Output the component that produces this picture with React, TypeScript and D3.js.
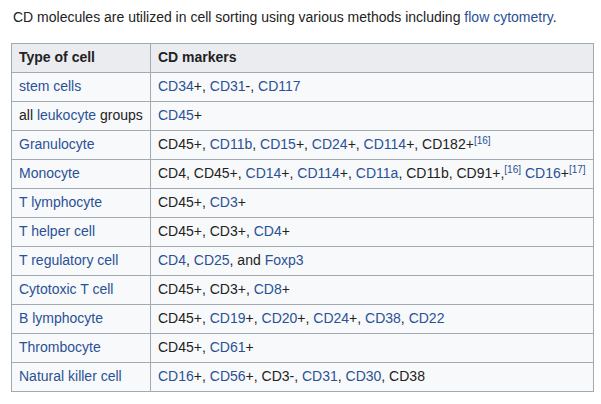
import React from "react";
import * as d3 from "d3";

// {text} = link, ^[n] = reference superscript
const caption = "CD molecules are utilized in cell sorting using various methods including {flow cytometry}.";
const headers = ["Type of cell", "CD markers"];
const cellTypes = [
  "{stem cells}",
  "all {leukocyte} groups",
  "{Granulocyte}",
  "{Monocyte}",
  "{T lymphocyte}",
  "{T helper cell}",
  "{T regulatory cell}",
  "{Cytotoxic T cell}",
  "{B lymphocyte}",
  "{Thrombocyte}",
  "{Natural killer cell}",
];
const markers = [
  "{CD34}+, {CD31}-, {CD117}",
  "{CD45}+",
  "CD45+, {CD11b}, {CD15}+, {CD24}+, {CD114}+, CD182+^[16]",
  "CD4, CD45+, {CD14}+, {CD114}+, {CD11a}, CD11b, CD91+,^[16] {CD16}+^[17]",
  "CD45+, {CD3}+",
  "CD45+, CD3+, {CD4}+",
  "{CD4}, {CD25}, and {Foxp3}",
  "CD45+, CD3+, {CD8}+",
  "CD45+, {CD19}+, {CD20}+, {CD24}+, {CD38}, {CD22}",
  "CD45+, {CD61}+",
  "{CD16}+, {CD56}+, CD3-, {CD31}, {CD30}, CD38",
];

const W = 601;
const H = 404;
const LINK = "#2a5196";
const TEXT = "#222";
const BORDER = "#a2a9b1";
const FONT = "'Liberation Sans', Arial, sans-serif";
const SIZE = 14;

const parse = (s: string) =>
  s
    .split(/(\{[^}]+\}|\^\[\d+\])/)
    .filter((p) => p.length)
    .map((p) => {
      if (p.startsWith("{")) return { text: p.slice(1, -1), kind: "link" };
      if (p.startsWith("^")) return { text: p.slice(1), kind: "ref" };
      return { text: p, kind: "plain" };
    });

const RichText = ({ s, x, y }: { s: string; x: number; y: number }) => {
  const parts = parse(s);
  let raised = false;
  return (
    <text x={x} y={y} fontFamily={FONT} fontSize={SIZE}>
      {parts.map((p, i) => {
        if (p.kind === "ref") {
          const el = (
            <tspan key={i} fill={LINK} fontSize={10} dy={raised ? 0 : -5}>
              {p.text}
            </tspan>
          );
          raised = true;
          return el;
        }
        const dy = raised ? 5 : 0;
        raised = false;
        return (
          <tspan key={i} fill={p.kind === "link" ? LINK : TEXT} dy={dy}>
            {p.text}
          </tspan>
        );
      })}
    </text>
  );
};

export default function App() {
  const left = 11;
  const right = 593;
  const divider = 150;
  const top = 43;
  const rows = ["header", ...cellTypes.map((_, i) => `r${i}`)];
  const y = d3.scaleBand().domain(rows).range([top, 391]);
  const bh = y.bandwidth();

  return (
    <svg
      width={W}
      height={H}
      style={{ position: "absolute", left: 0, top: 0, background: "#fff" }}
    >
      <RichText s={caption} x={13} y={22} />
      <rect
        x={left}
        y={top}
        width={right - left}
        height={391 - top}
        fill="#f8f9fa"
      />
      <rect x={left} y={top} width={right - left} height={bh} fill="#eaecf0" />
      {rows.map((r) => (
        <line
          key={r}
          x1={left}
          x2={right}
          y1={(y(r) as number) + 0.5}
          y2={(y(r) as number) + 0.5}
          stroke={BORDER}
        />
      ))}
      <line x1={left} x2={right} y1={391.5} y2={391.5} stroke={BORDER} />
      {[left, divider, right].map((x) => (
        <line
          key={x}
          x1={x + 0.5}
          x2={x + 0.5}
          y1={top}
          y2={392}
          stroke={BORDER}
        />
      ))}
      {headers.map((h, i) => (
        <text
          key={h}
          x={i === 0 ? 19 : 158}
          y={(y("header") as number) + bh / 2 + 4}
          fontFamily={FONT}
          fontSize={SIZE}
          fontWeight="bold"
          fill={TEXT}
        >
          {h}
        </text>
      ))}
      {cellTypes.map((c, i) => (
        <g key={c}>
          <RichText s={c} x={19} y={(y(`r${i}`) as number) + bh / 2 + 4} />
          <RichText
            s={markers[i]}
            x={158}
            y={(y(`r${i}`) as number) + bh / 2 + 4}
          />
        </g>
      ))}
    </svg>
  );
}
